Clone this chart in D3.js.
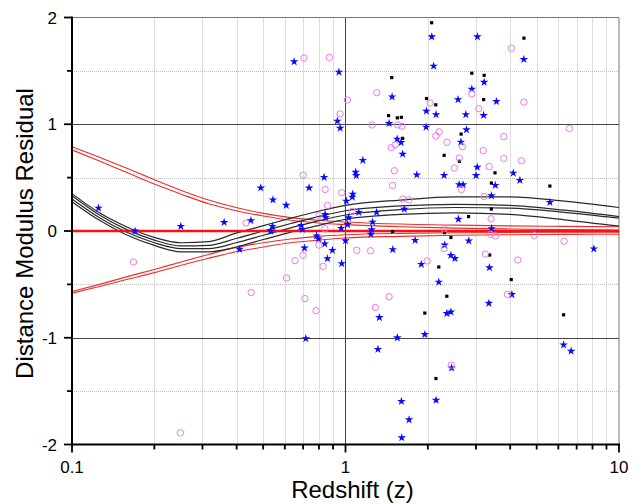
<!DOCTYPE html>
<html><head><meta charset="utf-8">
<script src="https://cdn.jsdelivr.net/npm/d3@7"></script>
<style>body{margin:0;background:#fff}svg{display:block}text{font-family:"Liberation Sans",Arial,sans-serif;fill:#000}</style>
</head><body><svg id="c" width="642" height="504"></svg>
<script>
// ---- data ----
const xTickLabels = ["0.1", "1", "10"];
const yTickLabels = ["-2", "-1", "0", "1", "2"];
// curve sample redshifts
const curveZ = [0.1, 0.126, 0.158, 0.2, 0.251, 0.316, 0.398, 0.501, 0.631, 0.794, 1, 1.585, 2.512, 3.981, 6.31, 10];
const blackA = [0.35, 0.17, 0.04, -0.06, -0.11, -0.10, -0.02, 0.05, 0.12, 0.185, 0.24, 0.29, 0.32, 0.32, 0.28, 0.22];
const blackB = [0.33, 0.15, 0.015, -0.085, -0.14, -0.135, -0.07, 0.0, 0.07, 0.135, 0.19, 0.235, 0.25, 0.24, 0.195, 0.135];
const blackC = [0.30, 0.125, -0.01, -0.11, -0.165, -0.165, -0.11, -0.04, 0.03, 0.095, 0.15, 0.20, 0.22, 0.215, 0.175, 0.12];
const blackD = [0.275, 0.10, -0.035, -0.135, -0.195, -0.195, -0.15, -0.08, -0.01, 0.05, 0.11, 0.155, 0.17, 0.155, 0.105, 0.045];
const redUp1 = [0.79, 0.69, 0.59, 0.48, 0.38, 0.29, 0.22, 0.165, 0.125, 0.10, 0.085, 0.065, 0.055, 0.048, 0.043, 0.04];
const redUp2 = [0.76, 0.655, 0.55, 0.44, 0.345, 0.255, 0.19, 0.14, 0.10, 0.075, 0.06, 0.04, 0.027, 0.019, 0.013, 0.01];
const redLo1 = [-0.567, -0.50, -0.43, -0.36, -0.29, -0.22, -0.155, -0.11, -0.075, -0.05, -0.035, -0.022, -0.017, -0.014, -0.012, -0.012];
const redLo2 = [-0.582, -0.52, -0.455, -0.39, -0.32, -0.255, -0.195, -0.15, -0.11, -0.085, -0.065, -0.05, -0.04, -0.035, -0.032, -0.03];

// blue stars
const starZ = [0.125,0.170,0.250,0.360,0.410,0.451,0.490,0.543,0.607,0.541,0.533,0.649,0.689,0.696,0.708,0.716,0.736,0.784,0.797,0.835,0.840,0.842,0.846,0.859,0.896,0.946,0.934,0.956,0.964,0.969,1.00,1.007,1.018,1.026,1.063,1.059,1.089,1.095,1.118,1.157,1.246,1.238,1.256,1.299,1.330,1.314,1.443,1.480,1.489,1.545,1.597,1.547,1.601,1.708,1.606,1.618,1.641,1.797,1.823,1.893,1.950,1.975,1.971,2.068,2.100,2.144,2.193,2.144,2.294,2.304,2.347,2.429,2.429,2.512,2.443,2.580,2.587,2.603,2.692,2.642,2.754,2.768,2.824,2.896,3.002,3.033,3.036,3.199,3.213,3.345,3.359,3.416,3.422,3.530,3.563,4.059,4.107,4.342,4.487,5.588,6.273,6.682,8.090];
const starR = [0.215,0.0,0.044,0.081,-0.171,0.097,0.404,0.292,0.241,0.044,0.0,1.586,0.053,0.016,-0.159,-1.008,0.404,-0.045,-0.073,0.503,-0.120,0.156,0.128,-0.258,-0.181,1.489,1.030,0.964,0.025,-0.305,-0.090,0.280,0.061,0.125,0.346,0.318,0.551,0.520,0.175,0.662,0.013,-0.029,0.084,0.175,-0.810,-1.108,1.008,1.257,-0.174,0.861,0.829,-1.0,-1.596,-1.768,-1.936,0.720,0.205,-0.087,0.526,-0.312,-0.969,1.123,0.974,1.820,1.545,1.090,-0.478,-1.585,0.522,-0.131,-0.773,-0.758,-0.228,-0.257,-1.283,1.231,0.111,0.435,0.434,0.833,1.091,0.949,-0.092,1.329,0.520,0.598,1.820,1.083,1.394,-0.677,-0.343,0.330,0.023,0.428,1.214,-0.595,0.543,0.475,1.608,0.269,-1.066,-1.125,-0.167];

// magenta open circles
const circZ = [0.1677,0.249,0.433,0.452,0.609,0.654,0.699,0.705,0.873,0.700,0.710,0.781,0.799,0.799,0.828,0.840,0.842,0.859,0.956,0.968,1.016,1.057,1.100,1.235,1.253,1.286,1.301,1.443,1.470,1.518,1.509,1.486,1.551,1.608,1.620,1.705,1.988,2.039,2.139,2.199,2.294,2.294,2.349,2.437,2.502,2.607,2.654,2.676,2.896,3.074,3.190,3.213,3.245,3.350,3.393,3.407,3.533,3.792,3.792,3.908,4.042,4.266,4.397,4.490,4.900,6.300,6.587];
const circR = [-0.290,-1.891,0.075,-0.577,-0.440,-0.277,-0.228,1.620,1.626,0.524,-0.633,-0.745,0.147,-0.132,-0.331,0.021,0.389,0.239,1.096,0.360,1.227,0.184,-0.181,-0.185,0.993,-0.716,1.296,-0.616,0.781,0.807,0.564,0.426,0.994,0.982,0.299,0.291,-0.281,1.199,0.891,0.929,0.021,-0.165,0.831,-1.257,0.589,0.684,0.389,0.790,1.285,1.146,0.753,0.323,-0.216,0.604,-0.031,0.114,-0.047,0.884,0.679,-0.593,1.713,-0.272,0.657,1.207,-0.040,-0.096,0.960];

// black squares
const sqZ = [1.476,1.437,1.547,1.600,1.618,1.486,1.950,1.978,2.065,2.139,2.141,2.193,2.294,2.300,2.347,2.429,2.609,2.647,2.818,2.896,3.199,3.213,3.365,3.416,3.416,3.521,4.036,4.491,5.588,6.273];
const sqR = [1.437,1.081,1.060,1.065,0.868,-0.005,-0.769,1.241,1.951,1.182,-1.382,-0.337,0.709,-0.015,-0.611,-0.061,0.653,0.908,0.135,1.478,1.231,1.458,-0.225,0.449,0.206,0.545,-0.455,1.807,0.421,-0.785];

// ---- drawing ----
const svg = d3.select("#c");
const L = 72, R = 619, T = 17.5, B = 444.5;
const x = d3.scaleLog().domain([0.1, 10]).range([L, R]);
const y = d3.scaleLinear().domain([-2, 2]).range([B, T]);

// minor dotted grid
const minorX = [];
[0.1, 1].forEach(d => { for (let k = 2; k <= 9; k++) minorX.push(d * k); });
const minorY = [-1.5, -0.5, 0.5, 1.5];
const g = svg.append("g");
g.selectAll(".mx").data(minorX).enter().append("line")
  .attr("x1", d => Math.round(x(d)) + 0.5).attr("x2", d => Math.round(x(d)) + 0.5)
  .attr("y1", T).attr("y2", B).attr("stroke", "#bdbdbd").attr("stroke-width", 1).attr("stroke-dasharray", "1,1");
g.selectAll(".my").data(minorY).enter().append("line")
  .attr("x1", L).attr("x2", R).attr("y1", d => Math.round(y(d)) + 0.5).attr("y2", d => Math.round(y(d)) + 0.5)
  .attr("stroke", "#bdbdbd").attr("stroke-width", 1).attr("stroke-dasharray", "1,1");
// major solid grid
g.selectAll(".My").data([-1, 0, 1]).enter().append("line")
  .attr("x1", L).attr("x2", R).attr("y1", d => Math.round(y(d)) + 0.5).attr("y2", d => Math.round(y(d)) + 0.5)
  .attr("stroke", "#444").attr("stroke-width", 1);
g.append("line").attr("x1", Math.round(x(1)) + 0.5).attr("x2", Math.round(x(1)) + 0.5).attr("y1", T).attr("y2", B)
  .attr("stroke", "#444").attr("stroke-width", 1);
// top & right frame
g.append("line").attr("x1", L).attr("x2", R).attr("y1", T).attr("y2", T).attr("stroke", "#777").attr("stroke-width", 1);
g.append("line").attr("x1", R).attr("x2", R).attr("y1", T).attr("y2", B).attr("stroke", "#777").attr("stroke-width", 1);

// curves
const line = d3.line().x(d => x(d[0])).y(d => y(d[1])).curve(d3.curveMonotoneX);
const mk = arr => curveZ.map((z, i) => [z, arr[i]]);
const cg = svg.append("g").attr("fill", "none");
[redUp1, redUp2, redLo1, redLo2].forEach(a => cg.append("path").attr("d", line(mk(a))).attr("stroke", "#e8302e").attr("stroke-width", 1.1));
[blackA, blackB, blackC, blackD].forEach(a => cg.append("path").attr("d", line(mk(a))).attr("stroke", "#2a2a2a").attr("stroke-width", 1.2));
cg.append("line").attr("x1", L).attr("x2", R).attr("y1", y(0)).attr("y2", y(0)).attr("stroke", "#ff1010").attr("stroke-width", 2.6);

// points
const pg = svg.append("g");
pg.selectAll(".sq").data(sqZ.map((z, i) => [z, sqR[i]])).enter().append("rect")
  .attr("x", d => x(d[0]) - 1.6).attr("y", d => y(d[1]) - 1.6).attr("width", 3.2).attr("height", 3.2).attr("fill", "#000");
const star = d3.symbol().type(d3.symbolStar).size(23);
pg.selectAll(".st").data(starZ.map((z, i) => [z, starR[i]])).enter().append("path")
  .attr("d", star).attr("transform", d => `translate(${x(d[0])},${y(d[1])})`).attr("fill", "#0a0aff");
pg.selectAll(".ci").data(circZ.map((z, i) => [z, circR[i]])).enter().append("circle")
  .attr("cx", d => x(d[0])).attr("cy", d => y(d[1])).attr("r", 3.2)
  .attr("fill", "none").attr("stroke", "#e77ce7").attr("stroke-width", 1);

// axes
const ax = svg.append("g");
ax.append("line").attr("x1", L).attr("x2", L).attr("y1", T - 1).attr("y2", B + 1).attr("stroke", "#000").attr("stroke-width", 2);
ax.append("line").attr("x1", L - 1).attr("x2", R + 1).attr("y1", B).attr("y2", B).attr("stroke", "#000").attr("stroke-width", 2);
const yMaj = yTickLabels.map(Number);
ax.selectAll(".yt").data(yMaj).enter().append("line")
  .attr("x1", L - 8).attr("x2", L).attr("y1", d => y(d)).attr("y2", d => y(d)).attr("stroke", "#000").attr("stroke-width", 1.8);
ax.selectAll(".ytm").data(minorY).enter().append("line")
  .attr("x1", L - 5).attr("x2", L).attr("y1", d => y(d)).attr("y2", d => y(d)).attr("stroke", "#000").attr("stroke-width", 1.8);
const xMaj = xTickLabels.map(Number);
ax.selectAll(".xt").data(xMaj).enter().append("line")
  .attr("x1", d => x(d)).attr("x2", d => x(d)).attr("y1", B).attr("y2", B + 8).attr("stroke", "#000").attr("stroke-width", 1.8);
ax.selectAll(".xtm").data(minorX).enter().append("line")
  .attr("x1", d => x(d)).attr("x2", d => x(d)).attr("y1", B).attr("y2", B + 5).attr("stroke", "#000").attr("stroke-width", 1.8);
ax.selectAll(".yl").data(yTickLabels).enter().append("text")
  .attr("x", 57).attr("y", d => y(+d) + 6).attr("text-anchor", "end").attr("font-size", 17).text(d => d);
ax.selectAll(".xl").data(xTickLabels).enter().append("text")
  .attr("x", d => x(+d)).attr("y", 472.5).attr("text-anchor", "middle").attr("font-size", 17).text(d => d);
svg.append("text").attr("x", 352.5).attr("y", 498).attr("text-anchor", "middle").attr("font-size", 24).text("Redshift (z)");
svg.append("text").attr("transform", "translate(33,233.5) rotate(-90)").attr("text-anchor", "middle").attr("font-size", 24).text("Distance Modulus Residual");
</script></body></html>
